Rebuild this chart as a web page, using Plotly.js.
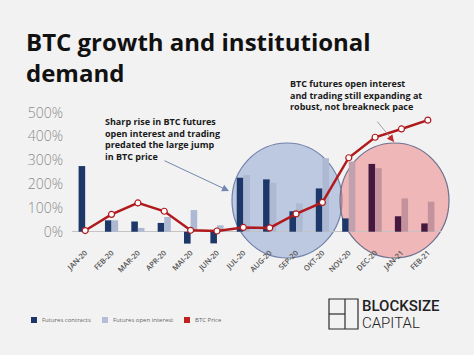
<!DOCTYPE html>
<html>
<head>
<meta charset="utf-8">
<script src="https://cdn.plot.ly/plotly-3.0.1.min.js"></script>
<style>
html,body{margin:0;padding:0;background:#f2f2f2;}
#chart{width:474px;height:355px;}
</style>
</head>
<body>
<div id="chart"></div>
<script>
// ---- Data ----
const months = ['JAN-20','FEB-20','MAR-20','APR-20','MAI-20','JUN-20','JUL-20','AUG-20','SEP-20','OKT-20','NOV-20','DEC-20','JAN-21','FEB-21'];
const futuresContracts = [276, 48, 43, 37, -50, -49, 227, 220, 86, 182, 56, 285, 65, 35];
const futuresOpenInterest = [0, 48, 16, 62, 91, 27, 238, 206, 119, 309, 295, 267, 140, 126];
const btcPrice = [5, 73, 121, 86, 6, 3, 18, 16, 75, 123, 311, 397, 432, 469];
const yTicks = [0, 100, 200, 300, 400, 500];
const legendLabels = ['Futures contracts', 'Futures open interest', 'BTC Price'];

// ---- Styles ----
const darkBar = months.map((m, i) => i >= 11 ? '#45193f' : '#1d3769');
const lightBar = months.map((m, i) => i === 10 ? '#c2a1ae' : (i >= 11 ? '#c4929d' : '#adb8d2'));

const W = 474, H = 355, L = 72, R = 33, T = 108, B = 109;
const pw = W - L - R, ph = H - T - B;
const px = x => (x - L) / pw;
const py = y => (H - B - y) / ph;

const traces = [
  {type: 'bar', x: months, y: futuresContracts, name: legendLabels[0],
   marker: {color: darkBar}, showlegend: false, hoverinfo: 'skip'},
  {type: 'bar', x: months, y: futuresOpenInterest, name: legendLabels[1],
   marker: {color: lightBar}, showlegend: false, hoverinfo: 'skip'},
  {type: 'scatter', mode: 'lines+markers', x: months, y: btcPrice, name: legendLabels[2],
   line: {color: '#b11a1c', width: 2.5},
   marker: {size: 6, color: '#ffffff', line: {color: '#b11a1c', width: 1.2}},
   showlegend: false, hoverinfo: 'skip'}
];

const shapes = [
  {type: 'circle', xref: 'paper', yref: 'paper', layer: 'below',
   x0: px(232), x1: px(342), y0: py(258), y1: py(143),
   fillcolor: 'rgba(110,140,200,0.4)', line: {color: '#7282aa', width: 1.2}},
  {type: 'circle', xref: 'paper', yref: 'paper', layer: 'below',
   x0: px(340), x1: px(449), y0: py(258), y1: py(143),
   fillcolor: 'rgba(235,110,110,0.45)', line: {color: '#6c708c', width: 1.2}},
  // legend squares
  {type: 'rect', xref: 'paper', yref: 'paper', x0: px(31), x1: px(37), y0: py(323), y1: py(317),
   fillcolor: '#1d3769', line: {width: 0}},
  {type: 'rect', xref: 'paper', yref: 'paper', x0: px(102), x1: px(108), y0: py(323), y1: py(317),
   fillcolor: '#b4bed6', line: {width: 0}},
  {type: 'rect', xref: 'paper', yref: 'paper', x0: px(184), x1: px(190), y0: py(323), y1: py(317),
   fillcolor: '#c0211f', line: {width: 0}},
  // logo
  {type: 'rect', xref: 'paper', yref: 'paper', x0: px(329), x1: px(358), y0: py(329), y1: py(299),
   line: {color: '#2a2a2a', width: 1.2}},
  {type: 'line', xref: 'paper', yref: 'paper', x0: px(345), x1: px(345), y0: py(329), y1: py(299),
   line: {color: '#2a2a2a', width: 1.2}},
  {type: 'line', xref: 'paper', yref: 'paper', x0: px(329), x1: px(345), y0: py(314), y1: py(314),
   line: {color: '#2a2a2a', width: 1.2}}
];

const noteFont = {family: 'Open Sans, sans-serif', size: 9, color: '#1a1a1a', weight: 700};
const legFont = {family: 'Open Sans, sans-serif', size: 6, color: '#666'};

const annotations = [
  {xref: 'paper', yref: 'paper', x: px(103), y: py(113), xanchor: 'left', yanchor: 'top',
   align: 'left', showarrow: false, font: noteFont,
   text: 'Sharp rise in BTC futures<br>open interest and trading<br>predated the large jump<br>in BTC price'},
  {xref: 'paper', yref: 'paper', x: px(288), y: py(75), xanchor: 'left', yanchor: 'top',
   align: 'left', showarrow: false, font: noteFont,
   text: 'BTC futures open interest<br>and trading still expanding at<br>robust, not breakneck pace'},
  // arrows
  {xref: 'paper', yref: 'paper', x: px(229), y: py(191), axref: 'pixel', ayref: 'pixel',
   ax: -66, ay: -31, text: '', showarrow: true, arrowhead: 2, arrowsize: 1.4, arrowwidth: 1,
   arrowcolor: '#7387b0'},
  {xref: 'paper', yref: 'paper', x: px(394), y: py(142), axref: 'pixel', ayref: 'pixel',
   ax: -18, ay: -22, text: '', showarrow: true, arrowhead: 0, arrowwidth: 0.8,
   arrowcolor: '#8a8a8a'},
  {xref: 'paper', yref: 'paper', x: px(394), y: py(142), axref: 'pixel', ayref: 'pixel',
   ax: -4, ay: -5, text: '', showarrow: true, arrowhead: 2, arrowsize: 1.4, arrowwidth: 1,
   arrowcolor: '#c0282a'},
  // legend labels
  {xref: 'paper', yref: 'paper', x: px(40), y: py(320), xanchor: 'left', yanchor: 'middle',
   showarrow: false, font: legFont, text: legendLabels[0]},
  {xref: 'paper', yref: 'paper', x: px(111), y: py(320), xanchor: 'left', yanchor: 'middle',
   showarrow: false, font: legFont, text: legendLabels[1]},
  {xref: 'paper', yref: 'paper', x: px(193), y: py(320), xanchor: 'left', yanchor: 'middle',
   showarrow: false, font: legFont, text: legendLabels[2]},
  // logo text
  {xref: 'paper', yref: 'paper', x: px(360), y: py(306), xanchor: 'left', yanchor: 'middle',
   showarrow: false, font: {family: 'Roboto, sans-serif', size: 15, color: '#222', weight: 500},
   text: 'BLOCKSIZE'},
  {xref: 'paper', yref: 'paper', x: px(360), y: py(322.5), xanchor: 'left', yanchor: 'middle',
   showarrow: false, font: {family: 'Roboto, sans-serif', size: 15, color: '#222', weight: 300},
   text: 'CAPITAL'}
];

const layout = {
  width: W, height: H,
  margin: {l: L, r: R, t: T, b: B, pad: 0},
  paper_bgcolor: '#f2f2f2',
  plot_bgcolor: 'rgba(0,0,0,0)',
  title: {
    text: 'BTC growth and institutional<br>demand',
    x: 26 / W, xanchor: 'left', xref: 'container',
    y: 1 - 51 / H, yanchor: 'top', yref: 'container',
    font: {family: 'Open Sans, sans-serif', size: 24, color: '#111', weight: 700}
  },
  barmode: 'group',
  bargap: 0.5,
  bargroupgap: 0,
  xaxis: {
    type: 'category', range: [-0.5, 13.5],
    showgrid: false, zeroline: false, showline: false, ticks: '',
    tickangle: -45,
    tickfont: {family: 'Open Sans, sans-serif', size: 7.5, color: '#555', weight: 600}
  },
  yaxis: {
    range: [-60, 520],
    tickvals: yTicks, ticktext: yTicks.map(v => v + '%'),
    showgrid: false, zeroline: true, zerolinecolor: '#c4c4c4', zerolinewidth: 1,
    showline: false, ticks: '', ticklabelstandoff: 8,
    tickfont: {family: 'Open Sans, sans-serif', size: 14, color: '#8a8a8a', weight: 300}
  },
  shapes: shapes,
  annotations: annotations,
  showlegend: false
};

Plotly.newPlot('chart', traces, layout, {displayModeBar: false, staticPlot: true});
</script>
</body>
</html>
